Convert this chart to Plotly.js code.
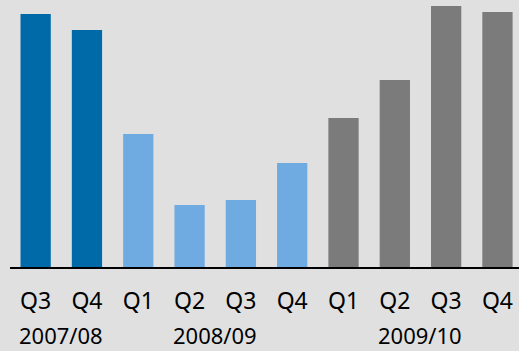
<!DOCTYPE html>
<html>
<head>
<meta charset="utf-8">
<script src="https://cdn.plot.ly/plotly-3.0.1.min.js"></script>
<style>html,body{margin:0;padding:0;background:#e0e0e0;}#chart{width:519px;height:351px;}</style>
</head>
<body>
<div id="chart"></div>
<script>
const quarters = ['Q3','Q4','Q1','Q2','Q3','Q4','Q1','Q2','Q3','Q4'];
const years = ['2007/08','2007/08','2008/09','2008/09','2008/09','2008/09','2009/10','2009/10','2009/10','2009/10'];
const values = [253,237,133,62,67,104,149,187,261,255];
const yearColors = {'2007/08':'#006aa8','2008/09':'#6fabe0','2009/10':'#7b7b7b'};

const idx = quarters.map((_, i) => i);
const trace = {
  type: 'bar',
  x: idx,
  y: values,
  width: 0.59,
  marker: {color: years.map(y => yearColors[y])},
  hoverinfo: 'none'
};

const groups = [...new Set(years)];
const annotations = groups.map(g => {
  const ids = idx.filter(i => years[i] === g);
  const c = (ids[0] + ids[ids.length - 1]) / 2;
  return {
    x: c, xref: 'x', y: 0, yref: 'paper', yshift: -52,
    text: g, showarrow: false, yanchor: 'top', borderpad: 0,
    font: {family: 'Noto Sans, sans-serif', size: 22, color: '#000'}
  };
});

const layout = {
  width: 519, height: 351,
  margin: {l: 10, r: 0, t: 0, b: 84},
  paper_bgcolor: '#e0e0e0',
  plot_bgcolor: '#e0e0e0',
  showlegend: false,
  xaxis: {
    range: [-0.5, 9.42],
    tickvals: idx,
    ticktext: quarters,
    ticks: '',
    ticklabelstandoff: 12,
    showline: true, linecolor: '#000', linewidth: 2,
    showgrid: false, zeroline: false,
    tickfont: {family: 'Noto Sans, sans-serif', size: 23, color: '#000'},
    fixedrange: true
  },
  yaxis: {
    range: [0, 267],
    visible: false,
    showgrid: false, zeroline: false,
    fixedrange: true
  },
  annotations: annotations
};

Plotly.newPlot('chart', [trace], layout, {displayModeBar: false, staticPlot: true});
</script>
</body>
</html>
